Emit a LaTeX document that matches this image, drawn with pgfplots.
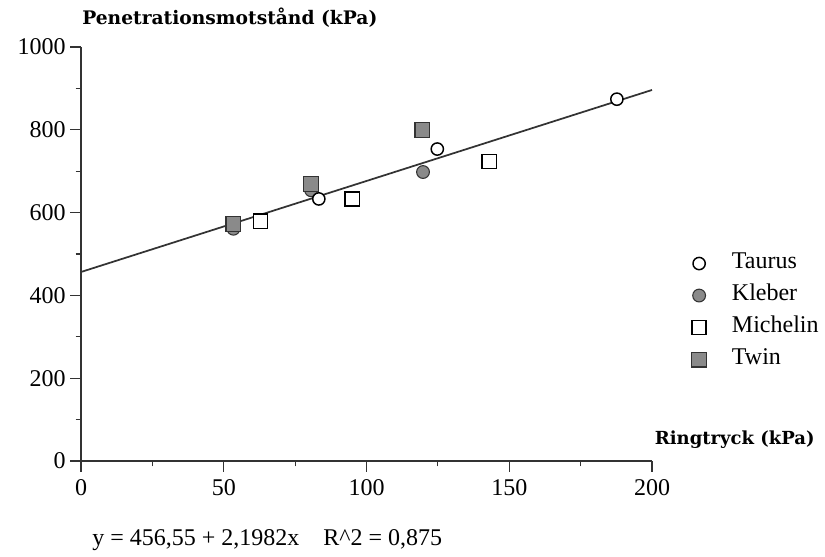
\documentclass[border=0pt]{standalone}
\usepackage{fontspec}
\setmainfont{Liberation Serif}
\newfontfamily\headfont{DejaVu Serif}
\usepackage{pgfplots}
\pgfplotsset{compat=1.18}
\definecolor{ink}{HTML}{333333}
\definecolor{grayfill}{HTML}{8A8A8A}

\begin{document}
\begin{tikzpicture}
\path[use as bounding box] (0,0) rectangle (618.75pt,417.75pt);
\begin{axis}[at={(60.75pt,72pt)},anchor=south west,scale only axis,
  width=428.25pt,height=310.5pt,
  xmin=0,xmax=200,ymin=0,ymax=1000,
  axis x line=bottom,axis y line=left,axis line style={-,ink,line width=1.3pt},
  xtick={0,50,100,150,200},ytick={0,200,400,600,800,1000},
  minor x tick num=1,minor y tick num=1,
  tick align=outside,major tick length=8pt,minor tick length=4pt,
  tick style={ink,line width=0.9pt},
  /pgf/number format/assume math mode=true,
  /pgf/number format/1000 sep={},
  tick label style={font=\fontsize{18}{20}\selectfont},
  xticklabel style={yshift=-2pt},
  clip=false,
  legend style={at={(1.069,0.361)},anchor=west,draw=none,fill=none,
    inner sep=0pt,row sep=8pt,column sep=19pt,
    nodes={inner sep=0pt,text height=12pt,text depth=4pt,
      font=\fontsize{18}{20}\selectfont}},
  legend cell align=left]
\addlegendimage{only marks,mark=*,mark size=4.6pt,mark options={fill=white,draw=black,line width=1.1pt}}
\addlegendentry{Taurus}
\addlegendimage{only marks,mark=*,mark size=4.8pt,mark options={fill=grayfill,draw=ink,line width=0.8pt}}
\addlegendentry{Kleber}
\addlegendimage{only marks,mark=square*,mark size=5.3pt,mark options={fill=white,draw=black,line width=1.1pt}}
\addlegendentry{Michelin}
\addlegendimage{only marks,mark=square*,mark size=5.6pt,mark options={fill=grayfill,draw=ink,line width=0.8pt}}
\addlegendentry{Twin}
% regression line y = 456.55 + 2.1982x
\addplot[forget plot,ink,line width=1.3pt] coordinates {(0,456.55) (200,896.19)};
\addplot[forget plot,only marks,mark=*,mark size=4.8pt,mark options={fill=grayfill,draw=ink,line width=0.8pt}]
  coordinates {(53.4,561) (80.6,654) (119.8,698)};
\addplot[forget plot,only marks,mark=square*,mark size=5.6pt,mark options={fill=grayfill,draw=ink,line width=0.8pt}]
  coordinates {(53.4,572) (80.6,669) (119.6,800)};
\addplot[forget plot,only marks,mark=square*,mark size=5.3pt,mark options={fill=white,draw=black,line width=1.1pt}]
  coordinates {(62.9,579) (95,633) (143,723.6)};
\addplot[forget plot,only marks,mark=*,mark size=4.6pt,mark options={fill=white,draw=black,line width=1.1pt}]
  coordinates {(83.3,633) (124.8,753.5) (187.7,874)};
\end{axis}
\node[anchor=west,inner sep=0pt,font=\headfont\bfseries\fontsize{14}{16}\selectfont] at (61.5pt,404.25pt) {Penetrationsmotstånd (kPa)};
\node[anchor=west,inner sep=0pt,font=\headfont\bfseries\fontsize{13.5}{15}\selectfont] at (491pt,87.75pt) {Ringtryck (kPa)};
\node[anchor=west,inner sep=0pt,font=\fontsize{18}{20}\selectfont] at (69pt,12.75pt) {y = 456,55 + 2,1982x\quad R\^{}2 = 0,875};
\end{tikzpicture}
\end{document}
